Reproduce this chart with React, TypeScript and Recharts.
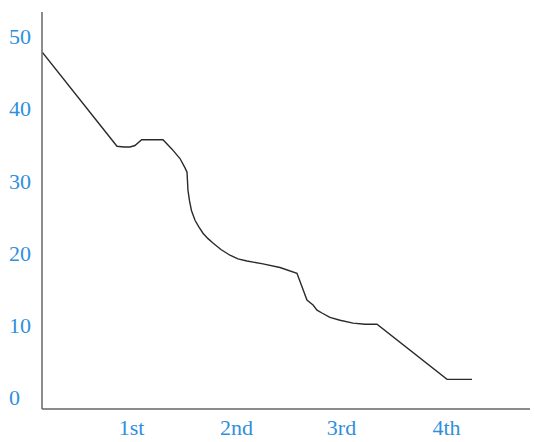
import React from 'react';
import { LineChart, Line, XAxis, YAxis } from 'recharts';

// x position (in quarter units) and value
const xs = [0.152, 0.862, 0.929, 0.986, 1.033, 1.097, 1.3, 1.386, 1.462, 1.51, 1.529, 1.533, 1.538, 1.552, 1.571, 1.605, 1.643, 1.681, 1.729, 1.776, 1.852, 1.938, 2.014, 2.1, 2.252, 2.414, 2.576, 2.671, 2.729, 2.767, 2.814, 2.89, 2.986, 3.11, 3.224, 3.338, 4.005, 4.243];
const values = [47.9, 34.9, 34.8, 34.8, 35.0, 35.8, 35.8, 34.5, 33.2, 31.9, 31.3, 30.2, 28.8, 27.4, 26.0, 24.65, 23.7, 22.85, 22.1, 21.5, 20.6, 19.8, 19.3, 19.0, 18.6, 18.1, 17.3, 13.6, 12.9, 12.2, 11.8, 11.2, 10.8, 10.4, 10.25, 10.25, 2.6, 2.6];

const xTicks = [1, 2, 3, 4];
const xTickLabels = ['1st', '2nd', '3rd', '4th'];
const yTicks = [0, 10, 20, 30, 40, 50];

const data = xs.map((x, i) => ({ x, v: values[i] }));

const BLUE = '#2f8fdc';
const FONT = '"Liberation Serif", "DejaVu Serif", serif';

const XTick = (props: any) => {
  const idx = xTicks.indexOf(props.payload.value);
  return (
    <text x={props.x} y={props.y} dy={18} textAnchor="middle" fill={BLUE} fontFamily={FONT} fontSize={22}>
      {xTickLabels[idx]}
    </text>
  );
};

const YTick = (props: any) => (
  <text x={9} y={props.y} dy={7} textAnchor="start" fill={BLUE} fontFamily={FONT} fontSize={22}>
    {props.payload.value}
  </text>
);

export default function App() {
  return (
    <div style={{ position: 'absolute', left: 0, top: 0, background: '#fff' }}>
      <LineChart width={534} height={442} data={data} margin={{ top: 12, right: 4, bottom: 0, left: 0 }}>
        <XAxis
          type="number"
          dataKey="x"
          domain={[0.148, 4.795]}
          ticks={xTicks}
          tick={<XTick />}
          tickLine={false}
          height={33}
          stroke="#666"
          strokeWidth={1.5}
          allowDataOverflow
        />
        <YAxis
          type="number"
          domain={[-1.5, 53.5]}
          ticks={yTicks}
          tick={<YTick />}
          tickLine={false}
          width={42}
          stroke="#666"
          strokeWidth={1.5}
          allowDataOverflow
        />
        <Line type="linear" dataKey="v" stroke="#2a2a2a" strokeWidth={1.4} dot={false} isAnimationActive={false} />
      </LineChart>
    </div>
  );
}
